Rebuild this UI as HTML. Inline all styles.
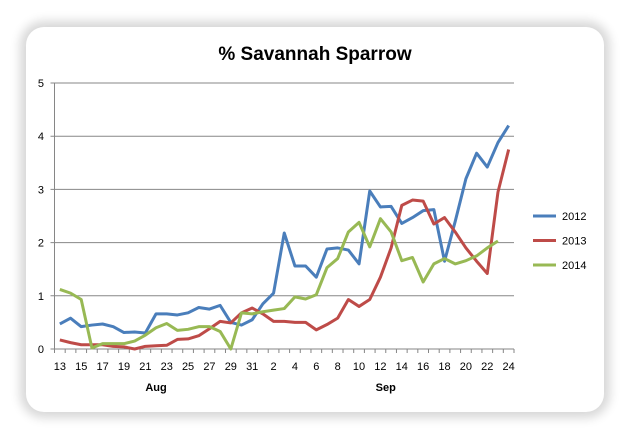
<!DOCTYPE html>
<html><head><meta charset="utf-8"><style>
html,body{margin:0;padding:0;background:#fff;}
body{width:630px;height:438px;position:relative;overflow:hidden;font-family:"Liberation Sans",sans-serif;}
#card{position:absolute;left:26px;top:27px;width:578px;height:385px;background:#fff;border-radius:18px;box-shadow:0 0 10px 6px #d8d8d8;}
svg{position:absolute;left:0;top:0;}
</style></head><body>
<div id="card"></div>
<svg id="chart" width="630" height="438"></svg>
<script>
const categories = ["13","14","15","16","17","18","19","20","21","22","23","24","25","26","27","28","29","30","31","1","2","3","4","5","6","7","8","9","10","11","12","13","14","15","16","17","18","19","20","21","22","23","24"];
const s2012 = [0.47,0.58,0.42,0.45,0.47,0.42,0.31,0.32,0.30,0.66,0.66,0.64,0.68,0.78,0.75,0.82,0.50,0.45,0.55,0.85,1.05,2.18,1.56,1.56,1.35,1.88,1.90,1.86,1.60,2.97,2.67,2.68,2.36,2.47,2.60,2.62,1.65,2.40,3.20,3.68,3.42,3.88,4.20];
const s2013 = [0.17,0.12,0.08,0.08,0.08,0.05,0.04,0.0,0.05,0.06,0.07,0.18,0.19,0.25,0.38,0.52,0.49,0.68,0.77,0.66,0.52,0.52,0.50,0.50,0.36,0.46,0.58,0.93,0.80,0.93,1.35,1.90,2.70,2.80,2.78,2.35,2.47,2.20,1.90,1.65,1.42,2.95,3.75];
const s2014 = [1.12,1.05,0.93,0.02,0.10,0.10,0.10,0.15,0.26,0.40,0.48,0.35,0.37,0.42,0.42,0.33,0.0,0.68,0.66,0.70,0.73,0.76,0.98,0.94,1.02,1.53,1.70,2.20,2.38,1.92,2.45,2.20,1.66,1.72,1.26,1.60,1.70,1.60,1.66,1.75,1.90,2.03];
const yTicks = [0,1,2,3,4,5];
const seriesNames = ["2012","2013","2014"];
const colors = ["#4a7ebb","#be4b48","#98b954"];
const NS="http://www.w3.org/2000/svg";
const svg=document.getElementById('chart');
const L=54.5,R=514,T=83,B=349,yMax=5;
const step=(R-L)/categories.length;
const xs=i=>L+step*(i+0.5);
const ys=v=>B-(v/yMax)*(B-T);
function mk(tag,attrs,parent){const e=document.createElementNS(NS,tag);for(const k in attrs)e.setAttribute(k,attrs[k]);(parent||svg).appendChild(e);return e;}
const title=mk('text',{x:315,y:60,'text-anchor':'middle','font-size':'19','font-weight':'bold',fill:'#000'});
title.textContent='% Savannah Sparrow';


yTicks.forEach(t=>{
  const g=mk('line',{x1:L-4,x2:R,y1:ys(t),y2:ys(t),stroke:t===0?'#868686':'#878787','stroke-width':1});
  
  
  const lb=mk('text',{x:44,y:ys(t)+4,'text-anchor':'end','font-size':'11',fill:'#000'});
  lb.textContent=t;
  
  
});
const ax=mk('line',{x1:L,x2:L,y1:T,y2:B,stroke:'#868686','stroke-width':1});


for(let i=0;i<=categories.length;i++){
  const tk=mk('line',{x1:L+step*i,x2:L+step*i,y1:B,y2:B+4,stroke:'#868686','stroke-width':1});
  
  
}
categories.forEach((c,i)=>{
  if(i%2!==0)return;
  const lb=mk('text',{x:xs(i),y:370,'text-anchor':'middle','font-size':'11',fill:'#000'});
  lb.textContent=c;
  
  
});
[["Aug",(xs(0)+xs(18))/2],["Sep",(xs(19)+xs(42))/2]].forEach(m=>{
  const lb=mk('text',{x:m[1],y:391,'text-anchor':'middle','font-size':'11','font-weight':'bold',fill:'#000'});
  lb.textContent=m[0];
  
  
});
[s2012,s2013,s2014].forEach((s,k)=>{
  const p=mk('polyline',{points:s.map((v,i)=>xs(i)+','+ys(v)).join(' '),fill:'none',stroke:colors[k],'stroke-width':3,'stroke-linejoin':'round'});
  
  
  const ly=216+k*24.5;
  const ll=mk('line',{x1:533,x2:556,y1:ly,y2:ly,stroke:colors[k],'stroke-width':3});
  
  
  const lt=mk('text',{x:562,y:ly+4,'font-size':'11',fill:'#000'});
  lt.textContent=seriesNames[k];
  
  
});
</script>
</body></html>
